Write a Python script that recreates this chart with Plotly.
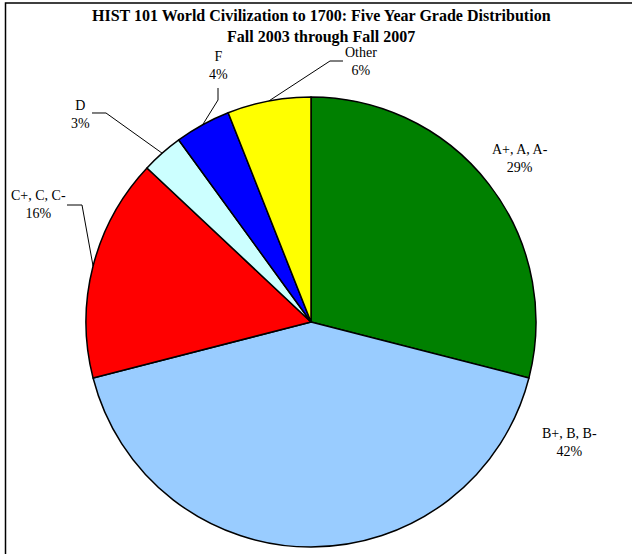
import math
import plotly.graph_objects as go

# Grade distribution, HIST 101, Fall 2003 - Fall 2007
grades = ["A+, A, A-", "B+, B, B-", "C+, C, C-", "D", "F", "Other"]
percents = [29, 42, 16, 3, 4, 6]
colors = ["#008000", "#99CCFF", "#FF0000", "#CCFFFF", "#0000FF", "#FFFF00"]

W, H = 632, 554
CX, CY, R = 311, 322, 225  # pie centre and radius in pixels

# Label centres (px) and leader elbow points (px) for each slice
label_xy = [(520, 158), (569, 442), (38, 205), (80, 114), (218, 65), (361, 61)]
leader_elbows = [None, None, [(67, 205), (82, 205)], [(92, 113), (106, 113)],
                 [(218, 88), (218, 100)], [(343, 61), (330, 61)]]


def px(x, y):
    return x / W, 1 - y / H


fig = go.Figure(go.Pie(
    labels=grades,
    values=percents,
    sort=False,
    direction="clockwise",
    rotation=0,
    marker=dict(colors=colors, line=dict(color="black", width=1.5)),
    textinfo="none",
    hoverinfo="skip",
    showlegend=False,
    domain=dict(x=[(CX - R) / W, (CX + R) / W], y=[1 - (CY + R) / H, 1 - (CY - R) / H]),
))

font = dict(family="Liberation Serif, Times New Roman, serif", size=14, color="black")
annotations = []
shapes = []
total = sum(percents)
cum = 0
for i, (g, p) in enumerate(zip(grades, percents)):
    mid = (cum + p / 2) / total * 2 * math.pi
    cum += p
    lx, ly = label_xy[i]
    x, y = px(lx, ly)
    annotations.append(dict(x=x, y=y, xref="paper", yref="paper", text=f"{g}<br>{p}%",
                            showarrow=False, font=font, align="center",
                            xanchor="center", yanchor="middle"))
    if leader_elbows[i]:
        ex, ey = CX + R * math.sin(mid), CY - R * math.cos(mid)
        pts = leader_elbows[i] + [(ex, ey)]
        path = "M " + " L ".join(f"{px(a, b)[0]:.5f},{px(a, b)[1]:.5f}" for a, b in pts)
        shapes.append(dict(type="path", path=path, xref="paper", yref="paper",
                           line=dict(color="black", width=1)))

title_font = dict(family="Liberation Serif, Times New Roman, serif", size=16, color="black")
for txt, ty in [("<b>HIST 101 World Civilization to 1700: Five Year Grade Distribution</b>", 15),
                ("<b>Fall 2003 through Fall 2007</b>", 37)]:
    x, y = px(321, ty)
    annotations.append(dict(x=x, y=y, xref="paper", yref="paper", text=txt, showarrow=False,
                            font=title_font, xanchor="center", yanchor="middle"))

# chart frame
x0, y0 = px(5.5, 3)
x1, y1 = px(W + 10, H + 10)
shapes.append(dict(type="rect", xref="paper", yref="paper", x0=x0, y0=y0, x1=x1, y1=y1,
                   line=dict(color="black", width=1.5), fillcolor="rgba(0,0,0,0)"))

fig.update_layout(
    width=W, height=H,
    margin=dict(l=0, r=0, t=0, b=0),
    paper_bgcolor="white",
    plot_bgcolor="white",
    annotations=annotations,
    shapes=shapes,
)

fig.write_html("out.html")
